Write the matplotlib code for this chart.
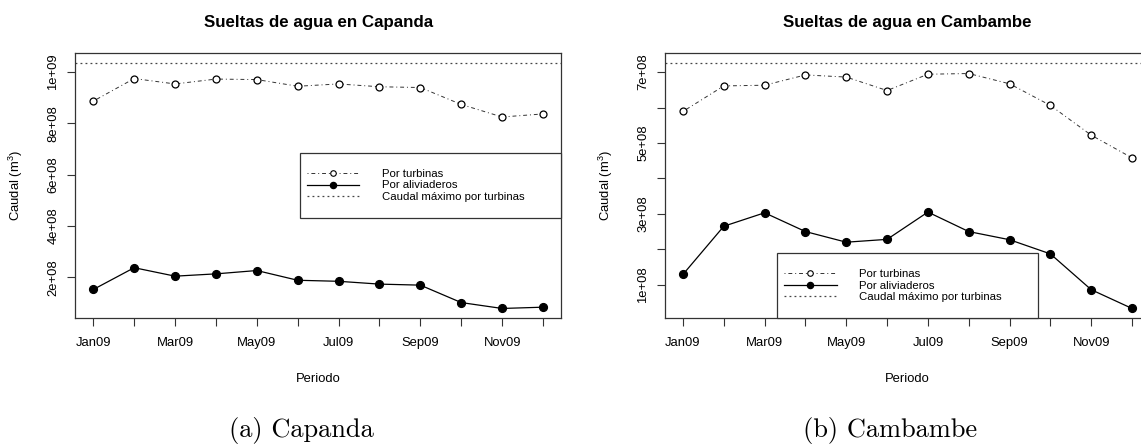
import matplotlib.pyplot as plt
from matplotlib.lines import Line2D
from matplotlib.patches import Rectangle

plt.rcParams['font.family'] = ['Liberation Sans', 'DejaVu Sans']
plt.rcParams['mathtext.fontset'] = 'custom'
plt.rcParams['mathtext.rm'] = 'Liberation Sans'
plt.rcParams['mathtext.it'] = 'Liberation Sans:italic'

# datos (m3 por mes, 2009)
meses = list(range(1, 13))
etiquetas_meses = ['Jan09', '', 'Mar09', '', 'May09', '', 'Jul09', '', 'Sep09', '', 'Nov09', '']

capanda_turbinas = [8.87e8, 9.75e8, 9.54e8, 9.73e8, 9.71e8, 9.45e8, 9.54e8, 9.43e8, 9.40e8, 8.74e8, 8.25e8, 8.37e8]
capanda_aliviaderos = [1.52e8, 2.37e8, 2.04e8, 2.13e8, 2.26e8, 1.88e8, 1.84e8, 1.73e8, 1.69e8, 1.01e8, 0.78e8, 0.83e8]
capanda_max = 1.0375e9
capanda_yticks = [2e8, 4e8, 6e8, 8e8, 1e9]
capanda_ylabels = ['2e+08', '4e+08', '6e+08', '8e+08', '1e+09']

cambambe_turbinas = [5.89e8, 6.61e8, 6.63e8, 6.92e8, 6.86e8, 6.48e8, 6.94e8, 6.96e8, 6.67e8, 6.06e8, 5.22e8, 4.58e8]
cambambe_aliviaderos = [1.29e8, 2.65e8, 3.03e8, 2.50e8, 2.20e8, 2.28e8, 3.05e8, 2.50e8, 2.27e8, 1.87e8, 0.86e8, 0.33e8]
cambambe_max = 7.27e8
cambambe_yticks = [1e8, 2e8, 3e8, 4e8, 5e8, 6e8, 7e8]
cambambe_ylabels = ['1e+08', '', '3e+08', '', '5e+08', '', '7e+08']

leyenda = ['Por turbinas', 'Por aliviaderos', 'Caudal máximo por turbinas']

W, H = 1141, 444
EDGE = '#333333'


def r_lim(vals):
    lo, hi = min(vals), max(vals)
    d = (hi - lo) * 0.04
    return lo - d, hi + d


def panel(ax, turb, aliv, qmax, yticks, ylabels, titulo, frame_xy):
    ax.plot(meses, turb, color='#333333', lw=0.7, ls=(0, (1, 3, 4, 3)),
            marker='o', ms=5, mfc='white', mec='black', mew=0.9)
    ax.plot(meses, aliv, color='black', lw=0.9, marker='o', ms=5.6,
            mfc='black', mec='black')
    ax.axhline(qmax, color='#444444', lw=0.9, ls=(0, (1.5, 2.5)))

    ax.set_xlim(r_lim(meses))
    ax.set_ylim(r_lim(list(turb) + list(aliv) + [qmax]))
    ax.set_xticks(meses)
    ax.set_xticklabels(etiquetas_meses)
    ax.set_yticks(yticks)
    ax.set_yticklabels(ylabels, rotation=90, va='center')
    ax.tick_params(length=5.8, width=0.8, color=EDGE, labelsize=9.4, pad=7.5)
    ax.tick_params(axis='y', pad=5.6)
    for s in ax.spines.values():
        s.set_color(EDGE)
        s.set_linewidth(0.9)

    ax.set_title(titulo, fontsize=12.2, fontweight='bold', pad=18.7)
    ax.set_xlabel('Periodo', fontsize=9.4)
    ax.xaxis.set_label_coords(0.5, -0.205)
    ax.set_ylabel('Caudal (m$^3$)', fontsize=9.4)
    ax.yaxis.set_label_coords(-0.1034, 0.5)

    fx, fy = frame_xy
    fw, fh = 0.538, 0.2447
    ax.add_patch(Rectangle((fx, fy), fw, fh, transform=ax.transAxes,
                           fill=True, facecolor='white', edgecolor=EDGE,
                           lw=0.9, zorder=5, clip_on=False))
    handles = [
        Line2D([], [], color='#333333', lw=0.7, ls=(0, (1, 3, 4, 3)), marker='o',
               ms=4, mfc='white', mec='black', mew=0.8),
        Line2D([], [], color='black', lw=0.9, marker='o', ms=4.4, mfc='black'),
        Line2D([], [], color='#444444', lw=0.9, ls=(0, (1.5, 2.5))),
    ]
    leg = ax.legend(handles, leyenda, loc='center left',
                    bbox_to_anchor=(fx, fy + fh / 2), bbox_transform=ax.transAxes,
                    frameon=False, fontsize=8.2, handlelength=4.6,
                    handletextpad=2.0, borderpad=0.65, borderaxespad=0,
                    labelspacing=0.12)
    leg.set_zorder(6)


fig = plt.figure(figsize=(W / 100, H / 100), dpi=100)
ax_h = 265.6 / H
ax_b = (H - 318.3) / H
ax1 = fig.add_axes([75.3 / W, ax_b, 485.7 / W, ax_h])
ax2 = fig.add_axes([665 / W, ax_b, 485 / W, ax_h])

panel(ax1, capanda_turbinas, capanda_aliviaderos, capanda_max,
      capanda_yticks, capanda_ylabels, 'Sueltas de agua en Capanda', (0.462, 0.3777))
panel(ax2, cambambe_turbinas, cambambe_aliviaderos, cambambe_max,
      cambambe_yticks, cambambe_ylabels, 'Sueltas de agua en Cambambe', (0.2305, 0.0))

fig.text(301 / W, 1 - 430.7 / H, '(a) Capanda', family='cmr10', fontsize=19,
         ha='center', va='center')
fig.text(890 / W, 1 - 430.7 / H, '(b) Cambambe', family='cmr10', fontsize=19,
         ha='center', va='center')

fig.savefig('out.png', dpi=100)
